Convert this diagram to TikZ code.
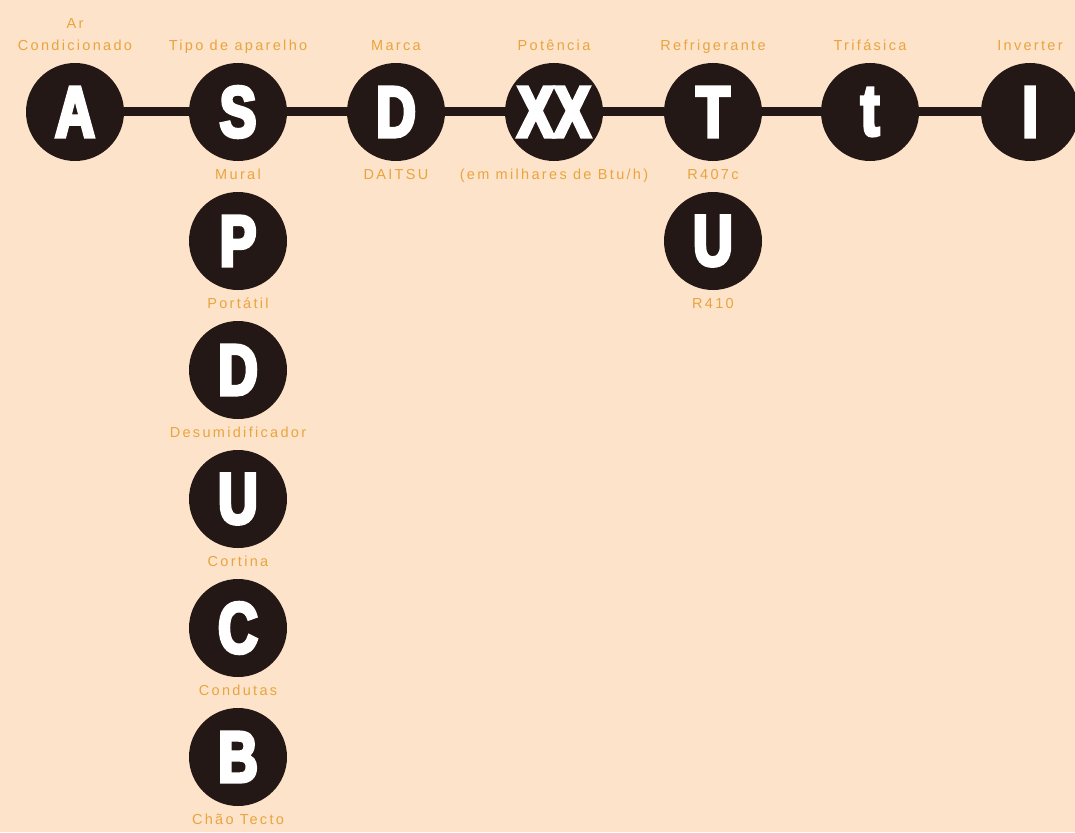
\documentclass[tikz,border=0pt]{standalone}
\usepackage{fontspec}
\setmainfont{Liberation Sans}
\newfontfamily\discfont[FakeBold=5,FakeStretch=0.76]{Liberation Sans Bold}
\newfontfamily\lblfont[LetterSpace=16]{Liberation Sans}
\definecolor{peach}{HTML}{FDE3C9}
\definecolor{ink}{HTML}{231815}
\definecolor{amber}{HTML}{E9A43F}
\tikzset{
  disc/.style={circle, fill=ink, minimum size=98pt, inner sep=0pt, text=white,
    font=\discfont\fontsize{72}{72}\selectfont},
  lbl/.style={anchor=base, text=amber, inner sep=0pt,
    font=\lblfont\fontsize{14.5}{16}\selectfont},
  link/.style={draw=ink, line width=9pt}
}
\begin{document}
\begin{tikzpicture}[x=1pt, y=-1pt]
            \useasboundingbox (0,0) rectangle (1075,832);
            \clip (0,0) rectangle (1075,832);
            \fill[peach] (0,0) rectangle (1075,832);
            % main row
            \node[disc] (ar) at (75,112) {A};
            \node[disc] (tipo) at (238,112) {S};
            \node[disc] (marca) at (396,112) {D};
            \node[disc] (pot) at (554,112) {XX};
            \node[disc] (refr) at (713,112) {T};
            \node[disc] (tri) at (870,112) {t};
            \node[disc] (inv) at (1030,112) {I};
            \draw[link] (ar) -- (tipo) -- (marca) -- (pot) -- (refr) -- (tri) -- (inv);
            % titles
            \node[lbl] (arA) at (75,29) {Ar};
            \node[lbl] (arB) at (75,51) {Condicionado};
            \node[lbl] (tipoL) at (238,51) {Tipo de aparelho};
            \node[lbl] (marcaL) at (396,51) {Marca};
            \node[lbl] (potL) at (554,51) {Potência};
            \node[lbl] (refrL) at (713,51) {Refrigerante};
            \node[lbl] (triL) at (870,51) {Trifásica};
            \node[lbl] (invL) at (1030,51) {Inverter};
            % options
            \node[lbl] (mural) at (238,179) {Mural};
            \node[lbl] (daitsu) at (396,179) {DAITSU};
            \node[lbl] (btu) at (554,179) {(em milhares de Btu/h)};
            \node[lbl] (r407) at (713,179) {R407c};
            \node[disc] (tipoP) at (238,241) {P};
            \node[lbl] (portatil) at (238,308) {Portátil};
            \node[disc] (tipoD) at (238,370) {D};
            \node[lbl] (desum) at (238,437) {Desumidificador};
            \node[disc] (tipoU) at (238,499) {U};
            \node[lbl] (cortina) at (238,566) {Cortina};
            \node[disc] (tipoC) at (238,628) {C};
            \node[lbl] (condutas) at (238,695) {Condutas};
            \node[disc] (tipoB) at (238,757) {B};
            \node[lbl] (chao) at (238,824) {Chão Tecto};
            \node[disc] (refrU) at (713,241) {U};
            \node[lbl] (r410) at (713,308) {R410};
\end{tikzpicture}
\end{document}
